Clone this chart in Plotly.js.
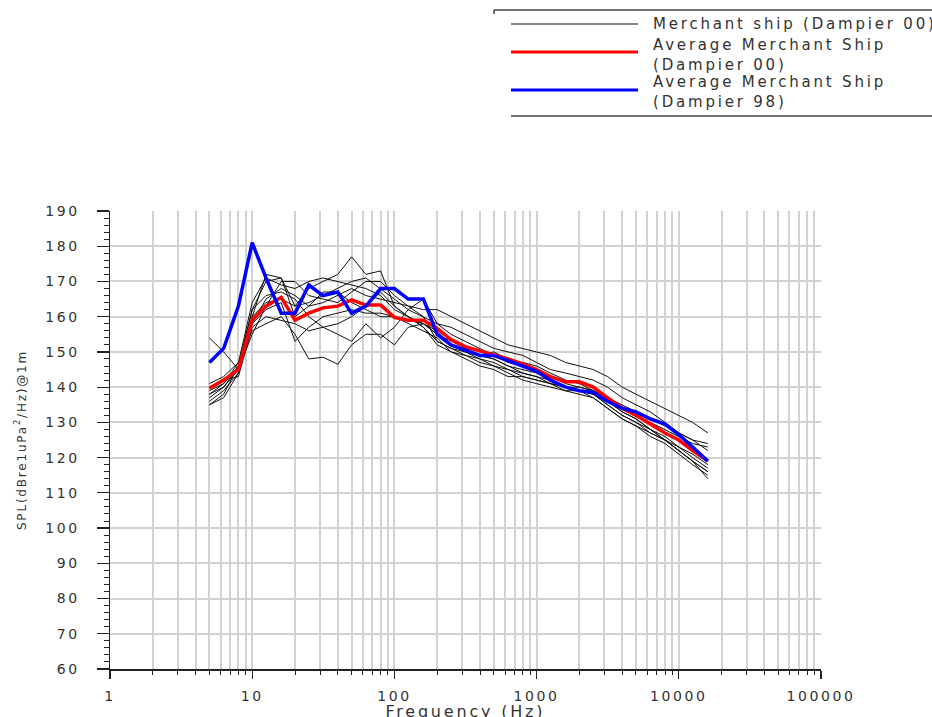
<!DOCTYPE html>
<html><head><meta charset="utf-8">
<script src="https://cdn.plot.ly/plotly-3.0.1.min.js"></script>
<style>
body{margin:0;background:#fff}
#chart{width:932px;height:717px}
#chart .xtick text, #chart .ytick text{letter-spacing:2.6px}
#chart .annotation-text{letter-spacing:2.8px}
#chart .ytitle{letter-spacing:1.8px}
</style>
</head><body><div id="chart"></div>
<script>
// 1/3-octave band centre frequencies (Hz)
const freqs = [5,6.3,8,10,12.5,16,20,25,31.5,40,50,63,80,100,125,160,200,250,315,400,500,630,800,1000,1250,1600,2000,2500,3150,4000,5000,6300,8000,10000,12500,16000];

// Individual merchant ships (Dampier 00), SPL dB re 1uPa^2/Hz @1m
const ship1  = [138,140,146,162,170,171,163,168,170,172,177,172,173,163,160,158,155,152,150,149,148,146,145,144,142,140,139,138,136,133,131,128,125,123,120,117];
const ship2  = [141,143,147,156,158,160,155,148,148.5,146.5,152,155,155,152,157,158,156,152,150,148,147,145,143,142,141,139,139,138,135,132,130,127,125,122,119,116];
const ship3  = [136,139,144,158,165,168,166,163,164,166,168,166,165,164,163,162,162,160,158,156,154,152,151,150,149,147,146,145,143,140,138,136,134,132,130,127];
const ship4  = [154,150,145,155,163,170,170,166,165,164,167,170,170,166,163,160,153,151,150,149,150,148,147,146,144,142,141,139,137,134,132,130,128,126,124,123];
const ship5  = [135,137,144,160,172,171,160,163,167,167,164,162,160,160,158,156,154,150,149,148,146,144,142,141,140,139,138,137,134,131,129,126,124,121,118,115];
const ship6  = [140,142,143,157,160,159,158,156,157,155,153,158,154,157,162,165,158,155,153,151,149,147,146,145,143,141,140,139,137,135,133,131,129,127,125,124];
const ship7  = [138,141,147,164,171,169,168,170,171,170,169,168,166,162,160,157,152,150,148,146,145,143,143,142,141,140,139,137,134,131,129,127,125,122,119,116];
const ship8  = [137,140,145,158,162,164,153,157,160,161,162,161,161,160,159,158,155,153,151,149,148,146,144,143,141,140,140,139,136,133,131,128,126,123,121,118];
const ship9  = [135,138,146,162,166,167,165,160,157,158,160,163,167,163,160,157,153,151,149,147,146,145,144,143,142,140,139,138,135,132,130,128,125,122,119,114];
const ship10 = [139,141,146,160,164,165,163,164,166,168,170,171,168,165,162,160,158,157,155,153,151,150,149,147,145,144,143,142,140,137,135,133,130,127,125,122];

const avgDampier00 = [139.7,142,145,159,163,165.5,159,161,162.5,163,164.8,163.3,163.3,159.8,159,159,156.7,153.5,151.5,150.3,149.2,148,146.5,145,143,141.5,141.5,140,137,134,132,129.5,127,125,122,119];
const avgDampier98 = [147,151,163,181,171,161,161,169,166,167,161,163,168,168,165,165,155,152,150.5,149,149,147.5,146,144.5,142,140,139,138.5,136,134,133,131,129.5,126.5,123,119];

const xTickVals = [1,10,100,1000,10000,100000];
const xTickText = ['1','10','100','1000','10000','100000'];
const legendLabels = ['Merchant ship (Dampier 00)','Average Merchant Ship<br>(Dampier 00)','Average Merchant Ship<br>(Dampier 98)'];
const xTitle = 'Frequency (Hz)';
const yTitle = 'SPL(dBre1uPa<sup>2</sup>/Hz)@1m';

const ships = [ship1,ship2,ship3,ship4,ship5,ship6,ship7,ship8,ship9,ship10];

const W = 932, H = 717;
const M = {l:110, r:111, t:211, b:48};
const pw = W - M.l - M.r, ph = H - M.t - M.b;
const px = x => (x - M.l) / pw;
const py = y => (H - M.b - y) / ph;

const traces = ships.map((s,i) => ({
  x: freqs, y: s, type:'scatter', mode:'lines',
  name: legendLabels[0], legendgroup:'ships', showlegend:false,
  line:{color:'#111', width:1}
}));
traces.push({x:freqs, y:avgDampier00, type:'scatter', mode:'lines', name:legendLabels[1], showlegend:false, line:{color:'#ff0000', width:3.5}});
traces.push({x:freqs, y:avgDampier98, type:'scatter', mode:'lines', name:legendLabels[2], showlegend:false, line:{color:'#0000ff', width:3.5}});

const legendY = [24, 52, 90];
const legendColors = ['#111','#ff0000','#0000ff'];
const legendWidths = [1.2, 3, 3];
const shapes = [
  {type:'line', xref:'paper', yref:'paper', x0:px(494), x1:px(945), y0:py(10), y1:py(10), line:{color:'#444', width:1.5}},
  {type:'line', xref:'paper', yref:'paper', x0:px(494), x1:px(494), y0:py(10), y1:py(14), line:{color:'#444', width:1.5}},
  {type:'line', xref:'paper', yref:'paper', x0:px(511), x1:px(945), y0:py(116), y1:py(116), line:{color:'#444', width:1.5}}
];
legendY.forEach((yy,i) => shapes.push({type:'line', xref:'paper', yref:'paper', x0:px(511), x1:px(638), y0:py(yy), y1:py(yy), line:{color:legendColors[i], width:legendWidths[i]}}));

const annY = [24, 55, 92];
const annotations = legendLabels.map((t,i) => ({
  text:t, xref:'paper', yref:'paper', x:px(651), y:py(annY[i]), xanchor:'left', yanchor:'middle',
  showarrow:false, align:'left', font:{family:'DejaVu Sans', size:15, color:'#333'}
}));
annotations.push({
  text:xTitle, xref:'paper', yref:'paper', x:0.5, y:py(700), xanchor:'center', yanchor:'top',
  showarrow:false, font:{family:'DejaVu Sans', size:16, color:'#333'}
});

const layout = {
  width:W, height:H,
  margin:{l:M.l, r:M.r, t:M.t, b:M.b, autoexpand:false},
  paper_bgcolor:'#fff', plot_bgcolor:'#fff',
  showlegend:false,
  font:{family:'DejaVu Sans', color:'#333'},
  xaxis:{
    type:'log', range:[0,5], tickvals:xTickVals, ticktext:xTickText,
    ticks:'outside', ticklen:8, tickwidth:1.2, tickcolor:'#222',
    showline:true, linecolor:'#222', linewidth:1.5,
    showgrid:true, gridcolor:'#d2d2d2', gridwidth:2,
    zeroline:false, ticklabelstandoff:6,
    tickfont:{family:'DejaVu Sans', size:14, color:'#333'},
    minor:{ticks:'outside', ticklen:4, tickcolor:'#222', tickwidth:1, showgrid:true, gridcolor:'#d2d2d2', gridwidth:2, dtick:'D1'}
  },
  yaxis:{
    range:[60,190], dtick:10, tick0:60,
    ticks:'outside', ticklen:12, tickwidth:1.2, tickcolor:'#222',
    showline:true, linecolor:'#222', linewidth:1.5,
    showgrid:true, gridcolor:'#d2d2d2', gridwidth:2,
    zeroline:false, ticklabelstandoff:14,
    tickfont:{family:'DejaVu Sans', size:14, color:'#333'},
    minor:{ticks:'outside', ticklen:5, tickcolor:'#222', tickwidth:1, dtick:2, showgrid:false},
    title:{text:yTitle, font:{family:'DejaVu Sans', size:12, color:'#333'}, standoff:24}
  },
  shapes:shapes,
  annotations:annotations
};

Plotly.newPlot('chart', traces, layout, {displayModeBar:false, staticPlot:true});
</script>
</body></html>
